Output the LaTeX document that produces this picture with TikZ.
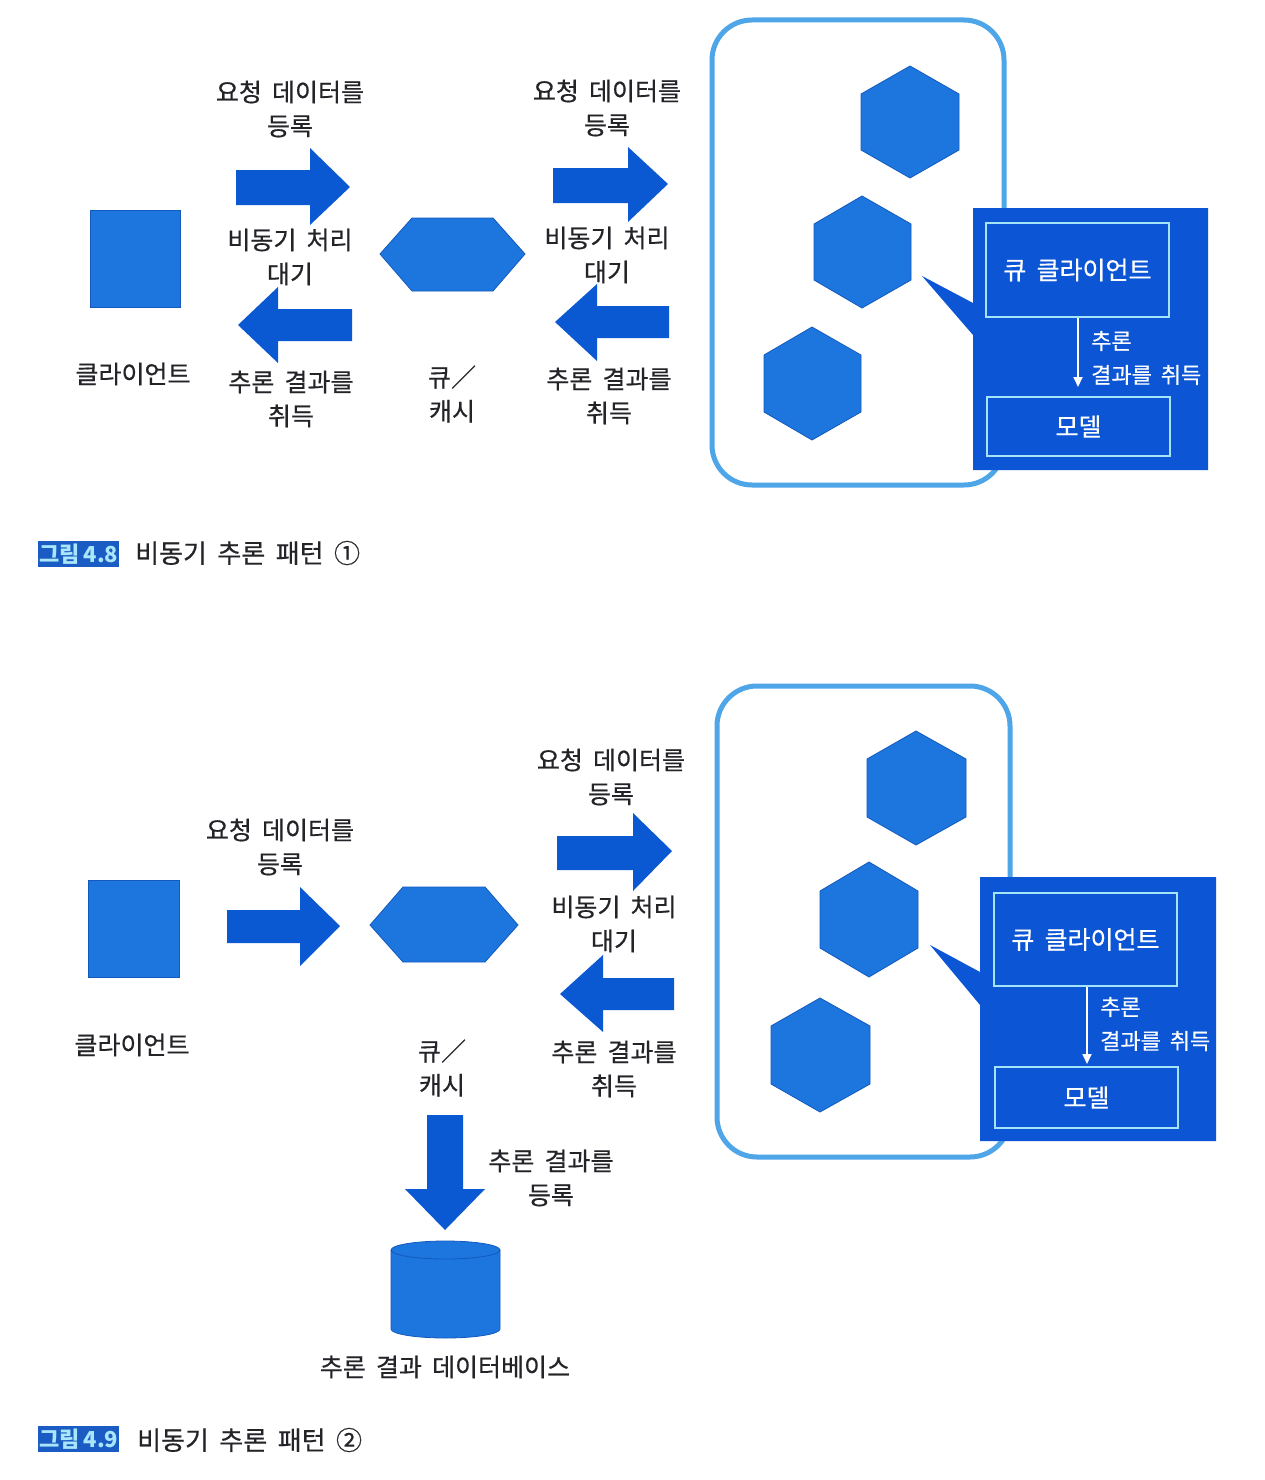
\documentclass[tikz,border=0pt]{standalone}
\usepackage{fontspec}
\setmainfont{Noto Sans CJK KR}[FakeBold=0.5, WordSpace=1.8]
\newfontfamily\capfont{Noto Sans CJK KR}[WordSpace=0.8]
\usetikzlibrary{arrows.meta}
\definecolor{shapeblue}{RGB}{28,118,222}
\definecolor{shapeedge}{RGB}{20,90,190}
\definecolor{arrowblue}{RGB}{10,88,210}
\definecolor{calloutblue}{RGB}{12,86,214}
\definecolor{frameblue}{RGB}{78,165,232}
\definecolor{innerline}{RGB}{165,228,248}
\definecolor{txt}{RGB}{35,35,40}
\definecolor{capbg}{RGB}{26,92,195}
\definecolor{captxt}{RGB}{170,230,250}
\begin{document}
\begin{tikzpicture}[x=1pt,y=-1pt,
  lbl/.style={font=\fontsize{25}{34}\selectfont, align=center, text=txt, inner sep=0pt},
  slbl/.style={font=\fontsize{22}{34}\selectfont, text=white, inner sep=0pt, anchor=west},
  shp/.style={fill=shapeblue, draw=shapeedge, line width=0.8pt},
  blk/.style={fill=arrowblue},
  frame/.style={draw=frameblue, line width=5pt, rounded corners=40pt},
  callout/.style={fill=calloutblue},
  inbox/.style={draw=innerline, line width=1.8pt, text=white, font=\fontsize{25}{30}\selectfont, inner sep=0pt},
  capbox/.style={fill=capbg, text=captxt, font=\capfont\bfseries\fontsize{22}{26}\selectfont, inner xsep=1pt, inner ysep=2.5pt},
  captext/.style={font=\fontsize{26}{30}\selectfont, text=txt, inner sep=0pt, anchor=west},
  wa/.style={-{Triangle[width=9pt,length=10pt]}, draw=white, line width=1.8pt}
]
\useasboundingbox (0,0) rectangle (1264,1480);
\fill[white] (0,0) rectangle (1264,1480);

% ================= Figure 4.8 =================
\node[shp, minimum width=90pt, minimum height=97pt, inner sep=0pt] (client1) at (135,258.5) {};
\node[lbl] (client1l) at (133,374) {클라이언트};

\fill[blk] (236,170) -- (310,170) -- (310,148) -- (350,187) -- (310,225) -- (310,205) -- (236,205) -- cycle;
\fill[blk] (238,325) -- (278,287) -- (278,309) -- (352,309) -- (352,341) -- (278,341) -- (278,363) -- cycle;
\node[lbl] (req1) at (290,109) {요청 데이터를\\등록};
\node[lbl] (wait1) at (290,257) {비동기 처리\\대기};
\node[lbl] (get1) at (291,399) {추론 결과를\\취득};

\filldraw[shp] (380,254) -- (412,218) -- (493,218) -- (525,254) -- (493,291) -- (412,291) -- cycle;
\coordinate (queue1) at (452,254);
\node[lbl] (queue1l) at (452,394) {큐／\\캐시};

\fill[blk] (553,168) -- (628,168) -- (628,147) -- (668,184) -- (628,222) -- (628,203) -- (553,203) -- cycle;
\fill[blk] (555,322) -- (597,284) -- (597,306) -- (669,306) -- (669,338) -- (597,338) -- (597,361) -- cycle;
\node[lbl] (req2) at (607,108) {요청 데이터를\\등록};
\node[lbl] (wait2) at (607,255) {비동기 처리\\대기};
\node[lbl] (get2) at (609,396) {추론 결과를\\취득};

\draw[frame] (712,20) rectangle (1004,485);
\filldraw[shp] (910,66) -- (959,94) -- (959,150) -- (910,178) -- (861,150) -- (861,94) -- cycle;
\filldraw[shp] (862,196) -- (911,224) -- (911,280) -- (862,308) -- (814,280) -- (814,224) -- cycle;
\filldraw[shp] (812,327) -- (861,355) -- (861,412) -- (812,440) -- (764,412) -- (764,355) -- cycle;
\coordinate (hexb1) at (862,252);

\fill[callout] (922,276) -- (973,303) -- (973,208) -- (1208,208) -- (1208,470) -- (973,470) -- (973,335) -- cycle;
\node[inbox, minimum width=183pt, minimum height=94pt] (qc1) at (1077.5,270) {큐 클라이언트};
\node[inbox, minimum width=183pt, minimum height=59pt] (model1) at (1078.5,426.5) {모델};
\draw[wa] (qc1.south -| 1078,0) -- (1078,387);
\node[slbl] (inf1a) at (1091,341) {추론};
\node[slbl] (inf1b) at (1091,375) {결과를 취득};

\node[capbox, anchor=west] (cap1) at (38,554) {그림 4.8};
\node[captext] (cap1t) at (135,553) {비동기 추론 패턴 ①};

% ================= Figure 4.9 =================
\node[shp, minimum width=91pt, minimum height=97pt, inner sep=0pt] (client2) at (133.5,928.5) {};
\node[lbl] (client2l) at (132,1045) {클라이언트};

\fill[blk] (227,910) -- (300,910) -- (300,887) -- (340,926) -- (300,966) -- (300,943) -- (227,943) -- cycle;
\node[lbl] (req3) at (280,847) {요청 데이터를\\등록};

\filldraw[shp] (370,925) -- (403,887) -- (485,887) -- (518,925) -- (485,962) -- (403,962) -- cycle;
\coordinate (queue2) at (444,925);
\node[lbl] (queue2l) at (442,1068) {큐／\\캐시};

\fill[blk] (427,1115) -- (463,1115) -- (463,1189) -- (485,1189) -- (445,1230) -- (405,1189) -- (427,1189) -- cycle;
\node[lbl] (reg3) at (551,1178) {추론 결과를\\등록};

% database cylinder (y axis flipped: angle 90 points down)
\filldraw[shp] (391,1250) -- (391,1329) arc[start angle=180, end angle=0, x radius=54.5, y radius=9] -- (500,1250) arc[start angle=360, end angle=180, x radius=54.5, y radius=9] -- cycle;
\draw[shapeedge, line width=0.8pt] (391,1250) arc[start angle=180, end angle=0, x radius=54.5, y radius=9];
\coordinate (db) at (445,1290);
\node[lbl] (dbl) at (445,1367) {추론 결과 데이터베이스};

\fill[blk] (557,836) -- (633,836) -- (633,813) -- (672,851) -- (633,891) -- (633,870) -- (557,870) -- cycle;
\fill[blk] (560,994) -- (603,955) -- (603,978) -- (674,978) -- (674,1010) -- (603,1010) -- (603,1032) -- cycle;
\node[lbl] (req4) at (611,777) {요청 데이터를\\등록};
\node[lbl] (wait4) at (614,924) {비동기 처리\\대기};
\node[lbl] (get4) at (614,1069) {추론 결과를\\취득};

\draw[frame] (717,686) rectangle (1010,1157);
\filldraw[shp] (916,731) -- (966,759) -- (966,817) -- (916,845) -- (867,817) -- (867,759) -- cycle;
\filldraw[shp] (869,862) -- (918,891) -- (918,948) -- (869,977) -- (820,948) -- (820,891) -- cycle;
\filldraw[shp] (820,998) -- (870,1026) -- (870,1084) -- (820,1112) -- (771,1084) -- (771,1026) -- cycle;
\coordinate (hexb2) at (869,919);

\fill[callout] (930,945) -- (980,972) -- (980,877) -- (1216,877) -- (1216,1141) -- (980,1141) -- (980,1005) -- cycle;
\node[inbox, minimum width=183pt, minimum height=93pt] (qc2) at (1085.5,939.5) {큐 클라이언트};
\node[inbox, minimum width=183pt, minimum height=61pt] (model2) at (1086.5,1097.5) {모델};
\draw[wa] (qc2.south -| 1087,0) -- (1087,1064);
\node[slbl] (inf2a) at (1100,1007) {추론};
\node[slbl] (inf2b) at (1100,1041) {결과를 취득};

\node[capbox, anchor=west] (cap2) at (38,1439) {그림 4.9};
\node[captext] (cap2t) at (137,1440) {비동기 추론 패턴 ②};
\end{tikzpicture}
\end{document}
